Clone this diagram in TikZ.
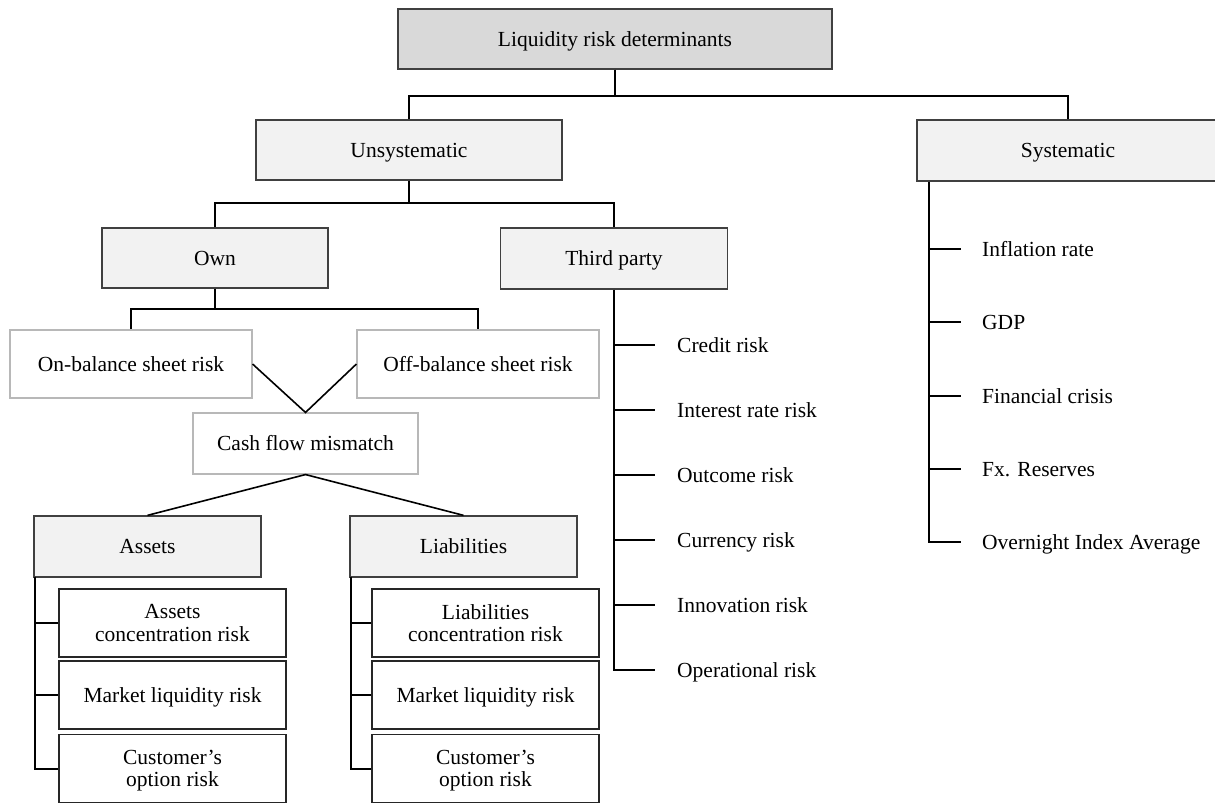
\documentclass[tikz,border=0pt]{standalone}
\usepackage{fontspec}
\setmainfont{Liberation Serif}
\begin{document}
\begin{tikzpicture}[x=1pt,y=-1pt,
  every node/.style={font=\fontsize{21.5}{22}\selectfont, inner sep=0pt, align=center},
  sl/.style={text height=14.2pt, text depth=0pt},
  hbox/.style={draw=black!75, line width=1.3pt, fill=black!5, sl},
  topbox/.style={draw=black!75, line width=1.3pt, fill=black!15, sl},
  lbox/.style={draw=black!28, line width=1.1pt, fill=white, sl},
  sbox/.style={draw=black!85, line width=1.3pt, fill=white},
  conn/.style={draw=black, line width=2pt},
  leaf/.style={anchor=west, inner xsep=0pt, sl}
]
\useasboundingbox (0,0) rectangle (1215,803);
% main boxes
\node[topbox, minimum width=434pt, minimum height=60pt] (top) at (615,39) {Liquidity risk determinants};
\node[hbox, minimum width=306pt, minimum height=60pt] (unsys) at (409,150) {Unsystematic};
\node[hbox, minimum width=302pt, minimum height=61pt] (sys) at (1068,150.5) {Systematic};
\node[hbox, minimum width=226pt, minimum height=60pt] (own) at (215,258) {Own};
\node[hbox, minimum width=227pt, minimum height=61pt] (third) at (614,258.5) {Third party};
\node[lbox, minimum width=242pt, minimum height=68pt] (onbal) at (131,364) {On-balance sheet risk};
\node[lbox, minimum width=242pt, minimum height=68pt] (offbal) at (478,364) {Off-balance sheet risk};
\node[lbox, minimum width=225pt, minimum height=61pt] (cash) at (305.5,443.5) {Cash flow mismatch};
\node[hbox, minimum width=227pt, minimum height=61pt] (assets) at (147.5,546.5) {Assets};
\node[hbox, minimum width=227pt, minimum height=61pt] (liab) at (463.5,546.5) {Liabilities};
% sub boxes
\node[sbox, minimum width=227pt, minimum height=68pt] (a1) at (172.5,623) {Assets\\concentration risk};
\node[sbox, sl, minimum width=227pt, minimum height=68pt] (a2) at (172.5,695) {Market liquidity risk};
\node[sbox, minimum width=227pt, minimum height=68pt] (a3) at (172.5,768.5) {Customer’s\\\smash{option risk}};
\node[sbox, minimum width=227pt, minimum height=68pt] (l1) at (485.5,623) {Liabilities\\concentration risk};
\node[sbox, sl, minimum width=227pt, minimum height=68pt] (l2) at (485.5,695) {Market liquidity risk};
\node[sbox, minimum width=227pt, minimum height=68pt] (l3) at (485.5,768.5) {Customer’s\\\smash{option risk}};
% third party leaves
\node[leaf] (t1) at (677,345) {Credit risk};
\node[leaf] (t2) at (677,410) {Interest rate risk};
\node[leaf] (t3) at (677,475) {Outcome risk};
\node[leaf] (t4) at (677,540) {Currency risk};
\node[leaf] (t5) at (677,605) {Innovation risk};
\node[leaf] (t6) at (677,670) {Operational risk};
% systematic leaves
\node[leaf] (s1) at (982,249) {Inflation rate};
\node[leaf] (s2) at (982,322) {GDP};
\node[leaf] (s3) at (982,396) {Financial crisis};
\node[leaf] (s4) at (982,469) {Fx. Reserves};
\node[leaf] (s5) at (982,542) {Overnight Index Average};
% trunk coordinates
\coordinate (tt) at (614,670);
\coordinate (st) at (929,542);
\coordinate (at) at (35,577);
\coordinate (lt) at (351,577);
% connectors
\draw[conn] (top.south) -- ++(0,26) -| (unsys.north);
\draw[conn] (top.south) -- ++(0,26) -| (sys.north);
\draw[conn] (unsys.south) -- ++(0,22) -| (own.north);
\draw[conn] (unsys.south) -- ++(0,22) -| (third.north);
\draw[conn] (own.south) -- ++(0,20) -| (onbal.north);
\draw[conn] (own.south) -- ++(0,20) -| (offbal.north);
\draw[conn, line width=1.6pt] (onbal.east) -- (cash.north) -- (offbal.west);
\draw[conn, line width=1.6pt] (assets.north) -- (cash.south) -- (liab.north);
% assets / liabilities trunks
\draw[conn] (at) |- (a3.west);
\draw[conn] (at |- a1.west) -- (a1.west);
\draw[conn] (at |- a2.west) -- (a2.west);
\draw[conn] (lt) |- (l3.west);
\draw[conn] (lt |- l1.west) -- (l1.west);
\draw[conn] (lt |- l2.west) -- (l2.west);
% third party trunk
\draw[conn] (third.south) -- (tt) -- ([xshift=-22pt]t6.west);
\foreach \n in {t1,t2,t3,t4,t5}
  \draw[conn] (tt |- \n.west) -- ([xshift=-22pt]\n.west);
% systematic trunk
\draw[conn] (sys.south -| st) -- (st) -- ([xshift=-21pt]s5.west);
\foreach \n in {s1,s2,s3,s4}
  \draw[conn] (st |- \n.west) -- ([xshift=-21pt]\n.west);
\end{tikzpicture}
\end{document}
